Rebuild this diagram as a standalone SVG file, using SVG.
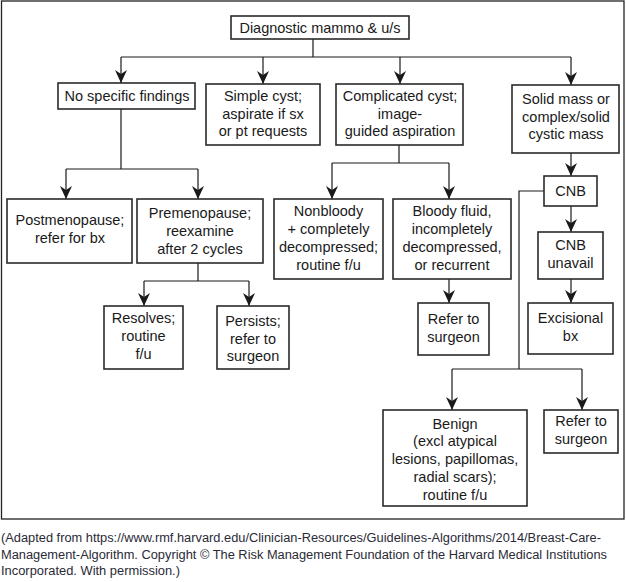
<svg xmlns="http://www.w3.org/2000/svg" width="626" height="582" viewBox="0 0 626 582">
<defs>
<marker id="ah" markerUnits="userSpaceOnUse" markerWidth="14" markerHeight="14" refX="13" refY="6" orient="auto" viewBox="0 0 14 12">
<path d="M0,0 L13,6 L0,12 L4,6 z" fill="#1a1a1a"/>
</marker>
<style>
.bx{fill:#fff;stroke:#2a2a2a;stroke-width:1.6}
.t{font-family:"Liberation Sans",Arial,sans-serif;font-size:14.5px;fill:#1a1a1a;text-anchor:middle}
.c{fill:none;stroke:#1a1a1a;stroke-width:1.2}
.a{marker-end:url(#ah)}
.cap{font-family:"Liberation Sans",Arial,sans-serif;font-size:12.5px;fill:#2a2a36}
</style>
</defs>
<rect x="1.5" y="1" width="622.5" height="518" fill="#fff" stroke="#222" stroke-width="1.3"/>
<g id="connectors">
<path class="c" d="M313,39 V57 M121,57 H571"/>
<path class="c a" d="M121,57 V83"/>
<path class="c a" d="M263,57 V84"/>
<path class="c a" d="M400,57 V84"/>
<path class="c a" d="M571,57 V85"/>
<path class="c" d="M121,109 V169 M66,169 H198"/>
<path class="c a" d="M66,169 V199"/>
<path class="c a" d="M198,169 V199"/>
<path class="c" d="M198,263 V281 M144,281 H249"/>
<path class="c a" d="M144,281 V306"/>
<path class="c a" d="M249,281 V306"/>
<path class="c" d="M399,145 V163 M332,163 H449"/>
<path class="c a" d="M332,163 V199"/>
<path class="c a" d="M449,163 V199"/>
<path class="c a" d="M449,279 V303"/>
<path class="c a" d="M571,153 V176"/>
<path class="c a" d="M571,206 V232"/>
<path class="c a" d="M571,279 V303"/>
<path class="c" d="M544,191 H519 V369 M452,369 H582"/>
<path class="c a" d="M452,369 V410"/>
<path class="c a" d="M582,369 V410"/>
</g>
<g id="n_diag"><rect class="bx" x="231" y="16" width="178" height="23"/><text class="t" x="320" y="32.5">Diagnostic mammo &amp; u/s</text></g>
<g id="n_nospec"><rect class="bx" x="58" y="83" width="137" height="26"/><text class="t" x="127" y="101">No specific findings</text></g>
<g id="n_simple"><rect class="bx" x="206" y="84" width="114" height="61"/><text class="t" x="263" y="101">Simple cyst;</text><text class="t" x="263" y="118.5">aspirate if sx</text><text class="t" x="263" y="136">or pt requests</text></g>
<g id="n_complicated"><rect class="bx" x="336" y="84" width="127" height="61"/><text class="t" x="400" y="101">Complicated cyst;</text><text class="t" x="400" y="118.5">image-</text><text class="t" x="400" y="136">guided aspiration</text></g>
<g id="n_solid"><rect class="bx" x="512" y="85" width="107" height="68"/><text class="t" x="566" y="104">Solid mass or</text><text class="t" x="566" y="122">complex/solid</text><text class="t" x="566" y="139">cystic mass</text></g>
<g id="n_post"><rect class="bx" x="7" y="199" width="125" height="64"/><text class="t" x="70" y="225">Postmenopause;</text><text class="t" x="70" y="243">refer for bx</text></g>
<g id="n_pre"><rect class="bx" x="137" y="199" width="126" height="64"/><text class="t" x="200" y="218">Premenopause;</text><text class="t" x="200" y="236">reexamine</text><text class="t" x="200" y="254">after 2 cycles</text></g>
<g id="n_resolves"><rect class="bx" x="104" y="306" width="79" height="63"/><text class="t" x="143.5" y="323">Resolves;</text><text class="t" x="143.5" y="341">routine</text><text class="t" x="143.5" y="359">f/u</text></g>
<g id="n_persists"><rect class="bx" x="217" y="306" width="72" height="63"/><text class="t" x="253" y="326">Persists;</text><text class="t" x="253" y="344">refer to</text><text class="t" x="253" y="361">surgeon</text></g>
<g id="n_nonbloody"><rect class="bx" x="274" y="199" width="109" height="80"/><text class="t" x="328.5" y="216">Nonbloody</text><text class="t" x="328.5" y="234">+ completely</text><text class="t" x="328.5" y="252">decompressed;</text><text class="t" x="328.5" y="270">routine f/u</text></g>
<g id="n_bloody"><rect class="bx" x="393" y="199" width="118" height="80"/><text class="t" x="452" y="216">Bloody fluid,</text><text class="t" x="452" y="234">incompletely</text><text class="t" x="452" y="252">decompressed,</text><text class="t" x="452" y="270">or recurrent</text></g>
<g id="n_refer1"><rect class="bx" x="418" y="303" width="71" height="52"/><text class="t" x="453.5" y="324">Refer to</text><text class="t" x="453.5" y="342">surgeon</text></g>
<g id="n_cnb"><rect class="bx" x="544" y="176" width="53" height="30"/><text class="t" x="570.5" y="196">CNB</text></g>
<g id="n_unavail"><rect class="bx" x="538" y="232" width="65" height="47"/><text class="t" x="570.5" y="250">CNB</text><text class="t" x="570.5" y="268">unavail</text></g>
<g id="n_excisional"><rect class="bx" x="528" y="303" width="85" height="51"/><text class="t" x="570.5" y="323">Excisional</text><text class="t" x="570.5" y="341">bx</text></g>
<g id="n_benign"><rect class="bx" x="383" y="410" width="144" height="96"/><text class="t" x="455" y="429">Benign</text><text class="t" x="455" y="446">(excl atypical</text><text class="t" x="455" y="464">lesions, papillomas,</text><text class="t" x="455" y="482">radial scars);</text><text class="t" x="455" y="500">routine f/u</text></g>
<g id="n_refer2"><rect class="bx" x="544" y="410" width="74" height="43"/><text class="t" x="581" y="426">Refer to</text><text class="t" x="581" y="444">surgeon</text></g>
<g id="caption">
<text class="cap" x="1" y="542" textLength="600" lengthAdjust="spacingAndGlyphs">(Adapted from https://www.rmf.harvard.edu/Clinician-Resources/Guidelines-Algorithms/2014/Breast-Care-</text>
<text class="cap" x="1" y="559" textLength="606" lengthAdjust="spacingAndGlyphs">Management-Algorithm. Copyright © The Risk Management Foundation of the Harvard Medical Institutions</text>
<text class="cap" x="1" y="575" textLength="179" lengthAdjust="spacingAndGlyphs">Incorporated. With permission.)</text>
</g>
</svg>
